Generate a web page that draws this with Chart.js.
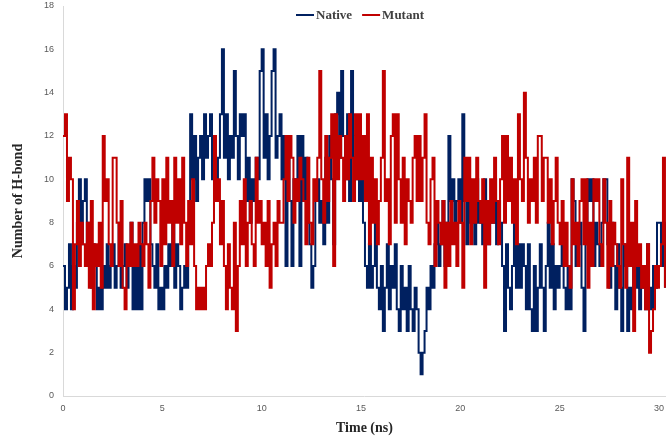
<!DOCTYPE html>
<html>
<head>
<meta charset="utf-8">
<script src="https://cdn.jsdelivr.net/npm/chart.js@4.4.1/dist/chart.umd.min.js"></script>
<style>
  html, body { margin: 0; padding: 0; background: #fff; }
  #hbondChart { display: block; }
</style>
</head>
<body>
<canvas id="hbondChart" width="671" height="439"></canvas>
<script>
// sampling step of the series, ns
const STEP = 0.1;

const xTicks = [0, 5, 10, 15, 20, 25, 30];
const yTicks = [0, 2, 4, 6, 8, 10, 12, 14, 16, 18];

// Native, one row per ns
const native = [
    6, 4, 5, 7, 4, 6, 5, 8, 10, 7,
    9, 10, 6, 8, 5, 7, 6, 4, 5, 4,
    6, 5, 7, 5, 6, 7, 5, 6, 8, 5,
    6, 7, 5, 6, 8, 4, 6, 4, 7, 4,
    8, 10, 9, 10, 7, 6, 5, 7, 4, 5,
    4, 6, 5, 7, 6, 8, 5, 7, 6, 4,
    5, 6, 5, 8, 13, 10, 12, 9, 11, 12,
    10, 13, 11, 12, 13, 10, 12, 9, 11, 13,
    16, 11, 13, 10, 12, 11, 15, 12, 10, 13,
    12, 13, 9, 11, 8, 10, 9, 11, 10, 15,
    16, 11, 13, 10, 12, 15, 16, 11, 12, 13,
    10, 12, 6, 11, 9, 6, 10, 9, 12, 6,
    12, 9, 11, 8, 7, 5, 6, 9, 10, 8,
    9, 7, 11, 8, 12, 10, 7, 13, 14, 11,
    15, 12, 10, 13, 9, 15, 11, 10, 12, 9,
    10, 8, 6, 5, 7, 5, 6, 8, 5, 4,
    6, 3, 5, 7, 4, 6, 5, 7, 4, 3,
    6, 4, 5, 3, 6, 4, 3, 5, 4, 2,
    1, 2, 3, 5, 4, 6, 5, 7, 8, 6,
    7, 9, 6, 8, 12, 9, 10, 8, 9, 10,
    8, 13, 9, 7, 10, 8, 9, 7, 10, 8,
    9, 7, 10, 8, 7, 9, 8, 10, 7, 9,
    8, 6, 3, 7, 5, 4, 6, 8, 5, 7,
    5, 7, 6, 4, 7, 4, 3, 6, 3, 5,
    7, 5, 3, 6, 8, 5, 7, 4, 6, 5,
    6, 7, 5, 4, 6, 4, 10, 9, 6, 7,
    8, 5, 3, 7, 10, 9, 10, 6, 8, 7,
    6, 8, 10, 10, 7, 5, 8, 6, 4, 7,
    5, 3, 7, 6, 3, 5, 4, 7, 5, 6,
    4, 6, 5, 4, 7, 5, 4, 6, 5, 8,
    8, 6, 8, 5
];

// Mutant, one row per ns
const mutant = [
    12, 13, 9, 11, 10, 4, 7, 9, 6, 8,
    7, 6, 8, 5, 9, 4, 7, 6, 8, 5,
    12, 9, 10, 7, 6, 11, 11, 8, 6, 9,
    5, 4, 7, 6, 8, 6, 7, 6, 8, 7,
    6, 8, 7, 5, 9, 11, 8, 10, 9, 6,
    10, 7, 11, 8, 9, 6, 11, 8, 10, 7,
    11, 8, 6, 9, 7, 10, 6, 4, 5, 4,
    5, 4, 6, 7, 6, 8, 12, 9, 10, 7,
    9, 6, 4, 7, 5, 4, 8, 3, 6, 9,
    7, 10, 6, 8, 9, 7, 6, 11, 8, 9,
    7, 8, 6, 9, 5, 7, 8, 6, 9, 8,
    8, 10, 12, 9, 12, 11, 8, 10, 9, 11,
    10, 9, 7, 11, 8, 7, 10, 9, 11, 15,
    10, 8, 12, 9, 11, 13, 6, 13, 10, 12,
    11, 9, 12, 10, 13, 11, 9, 13, 10, 13,
    10, 12, 9, 13, 7, 11, 8, 10, 7, 9,
    11, 15, 9, 10, 7, 12, 13, 8, 13, 10,
    8, 11, 7, 10, 9, 8, 11, 12, 9, 12,
    9, 11, 13, 8, 7, 10, 11, 6, 9, 8,
    7, 9, 5, 8, 6, 9, 7, 8, 6, 9,
    8, 5, 11, 9, 11, 7, 10, 8, 11, 9,
    8, 10, 5, 9, 7, 10, 8, 11, 9, 7,
    10, 12, 8, 12, 9, 11, 8, 10, 7, 13,
    10, 9, 14, 11, 8, 10, 9, 11, 8, 12,
    12, 9, 11, 11, 8, 10, 7, 9, 11, 8,
    7, 9, 6, 8, 6, 5, 10, 7, 8, 6,
    9, 10, 7, 10, 5, 8, 6, 10, 9, 10,
    7, 6, 10, 8, 5, 9, 6, 8, 7, 6,
    5, 10, 7, 5, 11, 6, 8, 3, 9, 6,
    7, 5, 6, 4, 7, 2, 3, 4, 6, 5,
    6, 7, 11, 5
];

function toPoints(values) {
    return values.map(function (v, i) {
        return { x: +(i * STEP).toFixed(1), y: v };
    });
}

const tickFont = { family: 'Liberation Sans', size: 9 };
const titleFont = { family: 'Liberation Serif', size: 14, weight: 'bold' };

// legend drawn over the top of the plot, like the excel one
const topLegend = {
    id: 'topLegend',
    afterDraw: function (chart) {
        const ctx = chart.ctx;
        const sets = chart.data.datasets;
        const lineW = 18, gap = 2, itemGap = 10;
        ctx.save();
        ctx.font = 'bold 13px "Liberation Serif"';
        let total = 0;
        sets.forEach(function (ds, i) {
            total += lineW + gap + ctx.measureText(ds.label).width;
            if (i < sets.length - 1) total += itemGap;
        });
        let x = 360 - total / 2;
        const y = 15;
        ctx.textBaseline = 'middle';
        sets.forEach(function (ds) {
            ctx.strokeStyle = ds.borderColor;
            ctx.lineWidth = 2;
            ctx.beginPath();
            ctx.moveTo(x, y);
            ctx.lineTo(x + lineW, y);
            ctx.stroke();
            x += lineW + gap;
            ctx.fillStyle = '#404040';
            ctx.fillText(ds.label, x, y + 1);
            x += ctx.measureText(ds.label).width + itemGap;
        });
        ctx.restore();
    }
};

const config = {
    type: 'line',
    data: {
        datasets: [{
            label: 'Native',
            data: toPoints(native),
            borderColor: '#002060',
            backgroundColor: '#002060',
            borderWidth: 2,
            pointRadius: 0,
            stepped: true,
            order: 1
        }, {
            label: 'Mutant',
            data: toPoints(mutant),
            borderColor: '#C00000',
            backgroundColor: '#C00000',
            borderWidth: 2,
            pointRadius: 0,
            stepped: true,
            order: 0
        }]
    },
    options: {
        responsive: false,
        animation: false,
        devicePixelRatio: 1,
        layout: { padding: { top: 0, right: 1, left: 0, bottom: 0 } },
        plugins: {
            tooltip: { enabled: false },
            legend: { display: false }
        },
        scales: {
            x: {
                type: 'linear',
                min: 0,
                max: 30.35,
                afterBuildTicks: function (scale) {
                    scale.ticks = xTicks.map(function (v) { return { value: v }; });
                },
                afterFit: function (scale) { scale.height = 43; },
                grid: { display: false, drawTicks: false },
                border: { display: true, color: '#d9d9d9', width: 1 },
                ticks: { color: '#595959', font: tickFont, padding: 7, maxRotation: 0 },
                title: {
                    display: true,
                    text: 'Time (ns)',
                    color: '#262626',
                    font: titleFont,
                    padding: { top: 0, bottom: 2 }
                }
            },
            y: {
                min: 0,
                max: 18,
                afterBuildTicks: function (scale) {
                    scale.ticks = yTicks.map(function (v) { return { value: v }; });
                },
                afterFit: function (scale) {
                    scale.width = 63;
                    // tick padding would otherwise push the top of the plot down
                    scale.paddingTop = 6;
                    scale.paddingBottom = 0;
                },
                grid: { display: false, drawTicks: false },
                border: { display: true, color: '#d9d9d9', width: 1 },
                ticks: { color: '#595959', font: tickFont, padding: 9 },
                title: {
                    display: true,
                    text: 'Number of H-bond',
                    color: '#262626',
                    font: titleFont,
                    padding: { top: 10, bottom: 0 }
                }
            }
        }
    },
    plugins: [topLegend]
};

const hbondChart = new Chart(document.getElementById('hbondChart'), config);
</script>
</body>
</html>
